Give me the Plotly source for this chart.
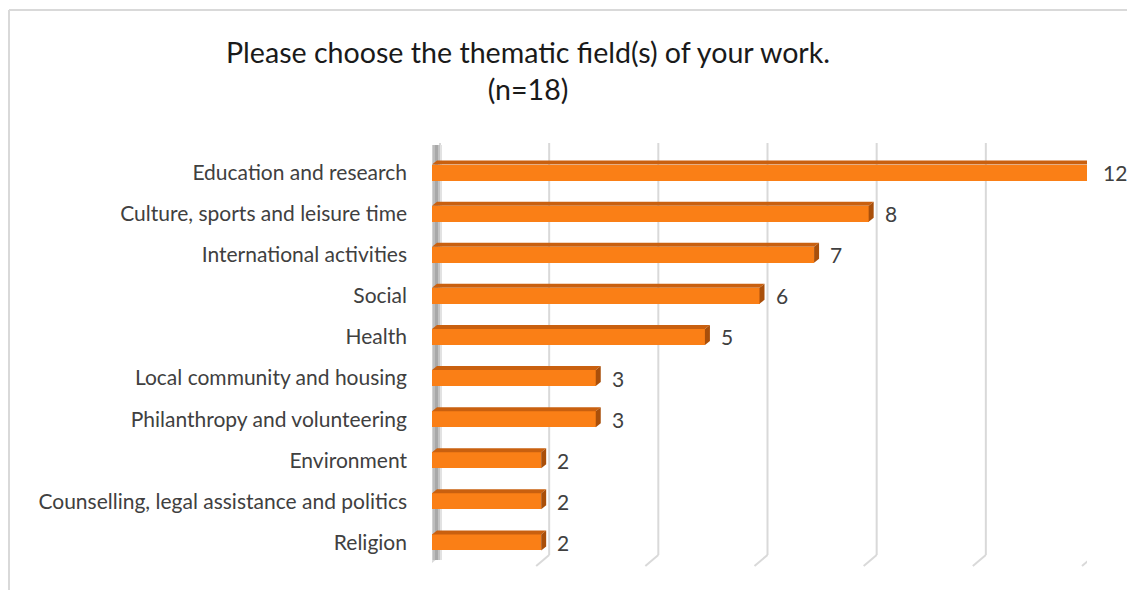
import plotly.graph_objects as go

categories = [
    "Education and research",
    "Culture, sports and leisure time",
    "International activities",
    "Social",
    "Health",
    "Local community and housing",
    "Philanthropy and volunteering",
    "Environment",
    "Counselling, legal assistance and politics",
    "Religion",
]
values = [12, 8, 7, 6, 5, 3, 3, 2, 2, 2]
x_ticks = [0, 2, 4, 6, 8, 10, 12]
title_text = "Please choose the thematic field(s) of your work.<br>(n=18)"

# page pixels (body margin removed via post_script)
W, H = 1127, 590
L, T = 432, 152
R = W - 1087
B = H - 563
PW, PH = W - L - R, H - T - B
XMAX = 12
XS = PW / XMAX            # px per x unit
n = len(categories)
YS = PH / n               # px per category

FONT = "Lato"
ORANGE = "#FA7F16"
TOP_FACE = "#C9600F"
SIDE_FACE = "#A94F0A"
GRID = "#D9D9D9"

ypos = list(range(n))
BAR_W = 16 / YS
DX, DY = 5 / XS, 4 / YS   # 3D depth offset in data units


def xp(px):
    return (px - L) / PW


def yp(py):
    return (H - B - py) / PH


fig = go.Figure()
fig.add_trace(go.Bar(
    x=values, y=ypos, orientation="h", width=BAR_W,
    marker=dict(color=ORANGE, line=dict(width=0)),
    hoverinfo="x+y", showlegend=False,
))

shapes = []
# back-wall gridlines with floor slant
GX_OFF = 8 / XS
for t in x_ticks:
    gx = t + GX_OFF
    shapes.append(dict(type="line", xref="x", yref="paper", x0=gx, x1=gx,
                       y0=yp(143), y1=yp(555), line=dict(color=GRID, width=2), layer="below"))
    shapes.append(dict(type="line", xref="x", yref="paper", x0=gx, x1=gx - 13 / XS,
                       y0=yp(555), y1=yp(566), line=dict(color=GRID, width=2), layer="below"))

# left wall shading
wall = [(-3, -1, "#E6E6E6"), (-1, 1, "#D0D0D0"), (1, 3, "#BDBDBD"), (3, 6, "#A8A8A8"),
        (6, 8, "#C4C4C4"), (8, 10, "#E2E2E2")]
for a, b, c in wall:
    shapes.append(dict(type="rect", xref="x", yref="paper", x0=a / XS, x1=b / XS,
                       y0=yp(560), y1=yp(145), fillcolor=c, line=dict(width=0), layer="below"))

# 3D faces of bars
for i, v in enumerate(values):
    top = i - BAR_W / 2
    bot = i + BAR_W / 2
    shapes.append(dict(type="path", xref="x", yref="y",
                       path=f"M 0,{top} L {v},{top} L {v + DX},{top - DY} L {DX},{top - DY} Z",
                       fillcolor=TOP_FACE, line=dict(width=0)))
    shapes.append(dict(type="path", xref="x", yref="y",
                       path=f"M {v},{top} L {v + DX},{top - DY} L {v + DX},{bot - DY} L {v},{bot} Z",
                       fillcolor=SIDE_FACE, line=dict(width=0)))

# chart-area border (top and left)
shapes.append(dict(type="line", xref="paper", yref="paper", x0=xp(9), x1=xp(1140),
                   y0=yp(10), y1=yp(10), line=dict(color=GRID, width=2)))
shapes.append(dict(type="line", xref="paper", yref="paper", x0=xp(9), x1=xp(9),
                   y0=yp(10), y1=yp(600), line=dict(color=GRID, width=2)))

annotations = []
for i, v in enumerate(values):
    annotations.append(dict(x=v, y=i, xref="x", yref="y", text=str(v), showarrow=False,
                            xanchor="left", yanchor="middle", xshift=14,
                            font=dict(family=FONT, size=21, color="#404040")))

annotations.append(dict(text=title_text, xref="paper", yref="paper",
                        x=xp(527.5), y=yp(70), xanchor="center", yanchor="middle",
                        showarrow=False, align="center",
                        font=dict(family=FONT, size=28.6, color="#1a1a1a")))

fig.update_layout(
    width=W, height=H,
    margin=dict(l=L, r=R, t=T, b=B),
    paper_bgcolor="white", plot_bgcolor="white",
    xaxis=dict(range=[0, XMAX], showgrid=False, zeroline=False, showticklabels=False,
               showline=False, ticks=""),
    yaxis=dict(range=[n - 0.5, -0.5], tickvals=ypos, ticktext=categories,
               showgrid=False, zeroline=False, showline=False, ticks="",
               ticklabelstandoff=24,
               tickfont=dict(family=FONT, size=21, color="#404040")),
    shapes=shapes, annotations=annotations,
    bargap=0,
)

fig.write_html(
    "out.html",
    config={"displayModeBar": False},
    post_script="document.body.style.margin='0';document.body.style.overflow='hidden';",
)
